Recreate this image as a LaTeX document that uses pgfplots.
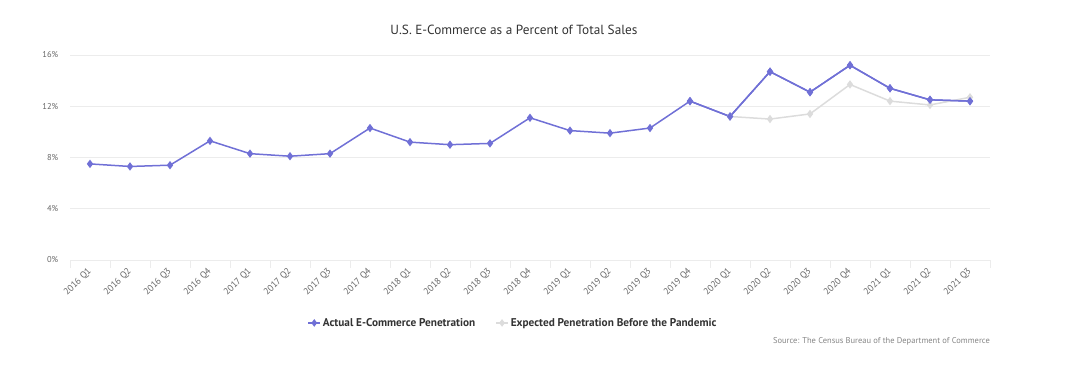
\documentclass[border=0pt]{standalone}
\usepackage{fontspec}
\setmainfont{PT Sans}
\usepackage{pgfplots}
\pgfplotsset{compat=1.18}
\definecolor{actual}{RGB}{112,112,214}
\definecolor{expected}{RGB}{220,220,220}
\definecolor{gridc}{RGB}{236,236,236}
\definecolor{txt}{RGB}{102,102,102}
\definecolor{ttl}{RGB}{51,51,51}
\begin{document}
\begin{tikzpicture}
\path[use as bounding box] (0,0) rectangle (1080bp,372bp);
\begin{axis}[
  at={(70bp,112bp)}, anchor=south west,
  width=920bp, height=205bp, scale only axis,
  xmin=-0.5, xmax=22.5, ymin=0, ymax=16,
  axis x line*=bottom, axis y line*=left,
  x axis line style={draw=gridc, line width=0.8bp},
  y axis line style={draw=none},
  xtick={0,...,22},
  xticklabels={2016 Q1,2016 Q2,2016 Q3,2016 Q4,2017 Q1,2017 Q2,2017 Q3,2017 Q4,2018 Q1,2018 Q2,2018 Q3,2018 Q4,2019 Q1,2019 Q2,2019 Q3,2019 Q4,2020 Q1,2020 Q2,2020 Q3,2020 Q4,2021 Q1,2021 Q2,2021 Q3},
  major x tick style={draw=none},
  minor xtick={-0.5,0.5,...,22.5},
  minor x tick style={draw=gridc, line width=0.8bp},
  minor tick length=8bp,
  tick align=outside,
  ytick={0,4,8,12,16},
  yticklabels={0\%,4\%,8\%,12\%,16\%},
  ytick style={draw=none},
  ymajorgrids, grid style={draw=gridc, line width=0.8bp},
  y tick label style={font=\fontsize{8.5}{10}\selectfont, text=txt, xshift=-4bp},
  x tick label style={font=\fontsize{9.3}{10}\selectfont, text=txt, rotate=45, anchor=north east, xshift=-0.8bp, yshift=3.6bp},
  legend style={at={(0.4815,-0.307)}, anchor=center, draw=none, fill=none,
    font=\bfseries\fontsize{11.3}{13}\selectfont, text=ttl, legend columns=2,
    /tikz/every even column/.append style={column sep=18bp}},
  legend cell align=left,
  legend image code/.code={\draw[#1, mark size=2.6bp] (0bp,0bp) -- (7bp,0bp) plot coordinates {(6bp,0bp)} -- (12bp,0bp);},
]
\addplot[color=actual, line width=1.5bp, mark=diamond*, mark size=3bp] coordinates {
(0,7.5)(1,7.3)(2,7.4)(3,9.3)(4,8.3)(5,8.1)(6,8.3)(7,10.3)(8,9.2)(9,9.0)(10,9.1)(11,11.1)
(12,10.1)(13,9.9)(14,10.3)(15,12.4)(16,11.2)(17,14.7)(18,13.1)(19,15.2)(20,13.4)(21,12.5)(22,12.4)};
\addlegendentry{Actual E-Commerce Penetration}
\addplot[color=expected, line width=1.5bp, mark=diamond*, mark size=3bp] coordinates {
(16,11.2)(17,11.0)(18,11.4)(19,13.7)(20,12.4)(21,12.1)(22,12.7)};
\addlegendentry{Expected Penetration Before the Pandemic}
\addplot[forget plot, color=actual, line width=1.5bp, mark=diamond*, mark size=3bp] coordinates {
(15,12.4)(16,11.2)(17,14.7)(18,13.1)(19,15.2)(20,13.4)(21,12.5)(22,12.4)};
\end{axis}
\node[font=\fontsize{13.3}{15}\selectfont, text=ttl] at (514bp,342bp) {U.S. E-Commerce as a Percent of Total Sales};
\node[font=\fontsize{8.5}{10}\selectfont, text=txt!80, anchor=east, inner sep=0] at (990bp,31bp) {Source: The Census Bureau of the Department of Commerce};
\end{tikzpicture}
\end{document}
